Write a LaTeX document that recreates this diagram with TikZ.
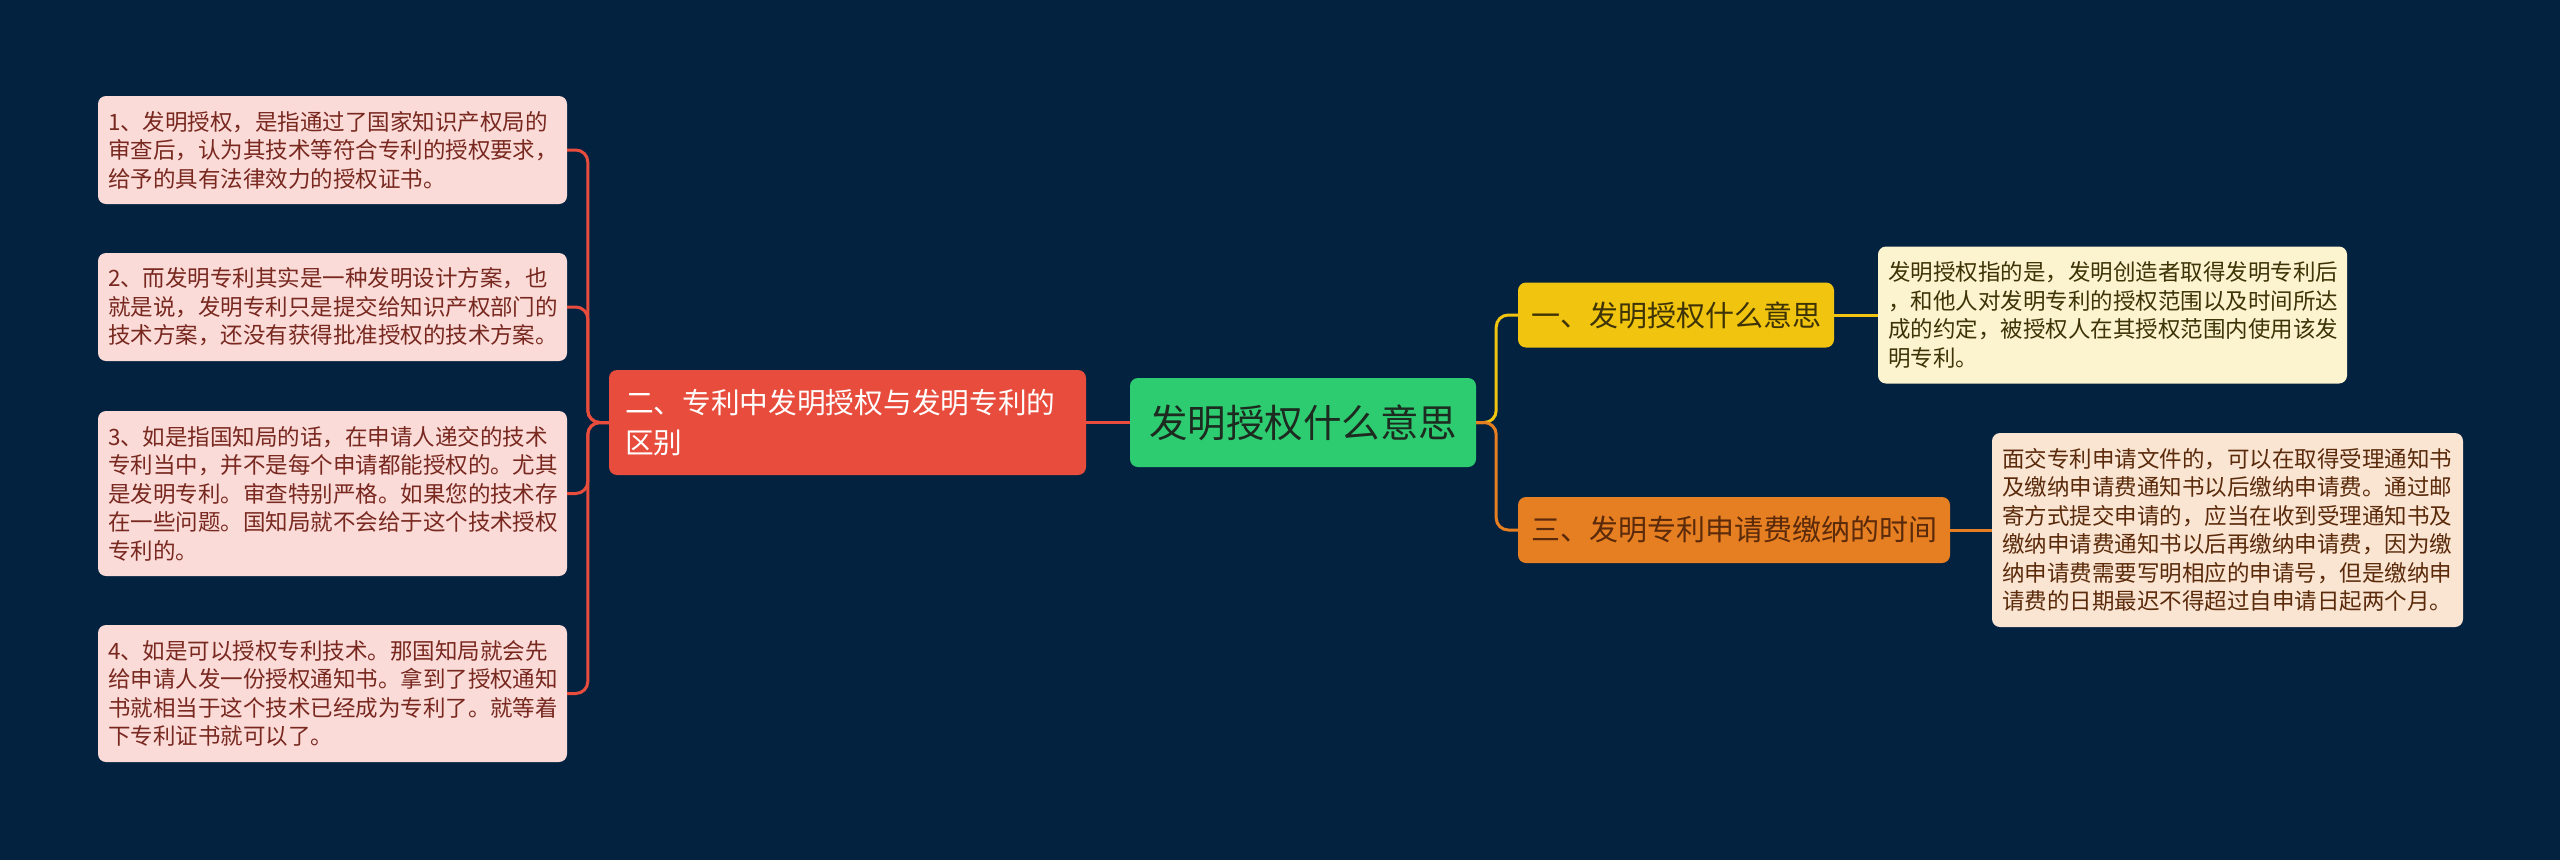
\documentclass[tikz,border=0pt]{standalone}
\usepackage{fontspec}
\newfontfamily\cjk{Noto Sans CJK SC}
\definecolor{bg}{RGB}{3,34,63}
\definecolor{leaffill}{HTML}{FADBD8}
\definecolor{leaftext}{HTML}{78281F}
\definecolor{redn}{HTML}{E74C3C}
\definecolor{greenn}{HTML}{2ECC71}
\definecolor{yellown}{HTML}{F1C40F}
\definecolor{orangen}{HTML}{E67E22}
\definecolor{ydesc}{HTML}{FCF3CF}
\definecolor{ydesctext}{HTML}{3D3306}
\definecolor{odesc}{HTML}{FAE5D3}
\definecolor{odesctext}{HTML}{5A2A0A}
\definecolor{roottext}{HTML}{1C2A20}
\tikzset{
  box/.style={rectangle, rounded corners=8pt, inner ysep=0pt, align=left},
  leaf/.style={box, fill=leaffill, text=leaftext, inner xsep=10pt, text width=449pt,
    font=\cjk\fontsize{22.5}{28.5}\selectfont},
  desc/.style={box, inner xsep=10pt, font=\cjk\fontsize{22.5}{28.5}\selectfont},
  mainbranch/.style={box, font=\cjk\fontsize{29}{40}\selectfont, align=center},
  link/.style={line width=3pt, rounded corners=12pt},
}
\begin{document}
\begin{tikzpicture}[x=1pt,y=-1pt]
\fill[bg] (0,0) rectangle (2560,860);
\useasboundingbox (0,0) rectangle (2560,860);

% root
\node[box, fill=greenn, text=roottext, minimum width=346pt, minimum height=89pt, align=center,
  font=\cjk\fontsize{38.5}{44}\selectfont] (root) at (1303,422.5) {发明授权什么意思};

% red branch
\node[box, fill=redn, text=white, inner xsep=16pt, text width=445pt, minimum height=105pt,
  font=\cjk\fontsize{28.7}{40}\selectfont] (red) at (847.5,422.5)
  {二、专利中发明授权与发明专利的\\区别};

% leaves
\node[leaf, minimum height=108pt] (l1) at (332.5,150)
  {1、发明授权，是指通过了国家知识产权局的\\审查后，认为其技术等符合专利的授权要求，\\给予的具有法律效力的授权证书。};
\node[leaf, minimum height=108pt] (l2) at (332.5,307)
  {2、而发明专利其实是一种发明设计方案，也\\就是说，发明专利只是提交给知识产权部门的\\技术方案，还没有获得批准授权的技术方案。};
\node[leaf, minimum height=165pt] (l3) at (332.5,493.5)
  {3、如是指国知局的话，在申请人递交的技术\\专利当中，并不是每个申请都能授权的。尤其\\是发明专利。审查特别严格。如果您的技术存\\在一些问题。国知局就不会给于这个技术授权\\专利的。};
\node[leaf, minimum height=137pt] (l4) at (332.5,693.5)
  {4、如是可以授权专利技术。那国知局就会先\\给申请人发一份授权通知书。拿到了授权通知\\书就相当于这个技术已经成为专利了。就等着\\下专利证书就可以了。};

% right branches
\node[mainbranch, fill=yellown, text=ydesctext, minimum width=316pt, minimum height=65pt] (yb) at (1676,315)
  {一、发明授权什么意思};
\node[mainbranch, fill=orangen, text=odesctext, minimum width=432pt, minimum height=66pt] (ob) at (1734,530)
  {三、发明专利申请费缴纳的时间};

\node[desc, fill=ydesc, text=ydesctext, text width=449pt, minimum height=137pt] (yd) at (2112.5,315)
  {发明授权指的是，发明创造者取得发明专利后\\，和他人对发明专利的授权范围以及时间所达\\成的约定，被授权人在其授权范围内使用该发\\明专利。};
\node[desc, fill=odesc, text=odesctext, text width=451pt, minimum height=194pt] (od) at (2227.5,530)
  {面交专利申请文件的，可以在取得受理通知书\\及缴纳申请费通知书以后缴纳申请费。通过邮\\寄方式提交申请的，应当在收到受理通知书及\\缴纳申请费通知书以后再缴纳申请费，因为缴\\纳申请费需要写明相应的申请号，但是缴纳申\\请费的日期最迟不得超过自申请日起两个月。};

% connectors
\draw[link, redn] (red.east) -- (root.west);
\foreach \l in {l1,l2,l3,l4}{
  \draw[link, redn] (red.west) -- ++(-21,0) |- (\l.east);
}
\draw[link, yellown] (root.east) -- ++(20,0) |- (yb.west);
\draw[link, orangen] (root.east) -- ++(20,0) |- (ob.west);
\draw[link, yellown] (yb.east) -- (yd.west);
\draw[link, orangen] (ob.east) -- (od.west);
\end{tikzpicture}
\end{document}
